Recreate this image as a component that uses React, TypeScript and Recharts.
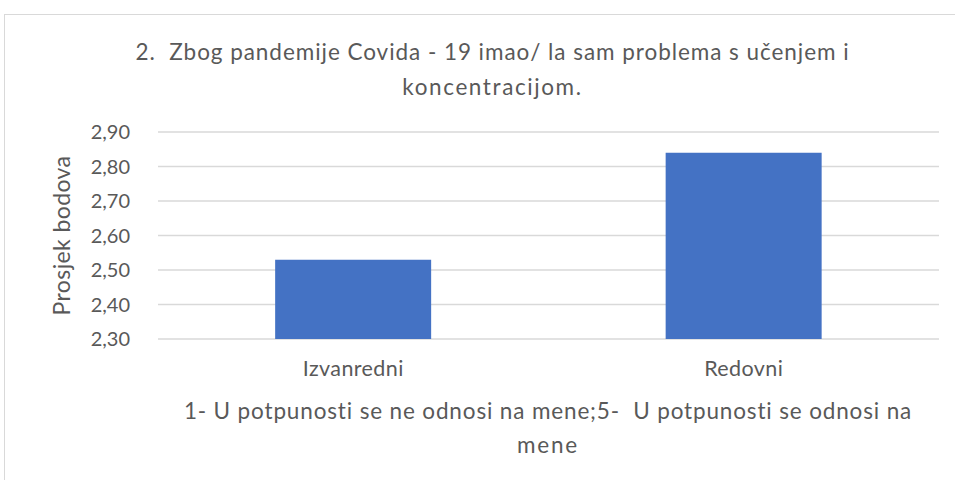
import { BarChart, Bar, XAxis, YAxis, CartesianGrid, Label } from "recharts"

const categories = ["Izvanredni", "Redovni"]
const averages = [2.53, 2.84]
const yTicks = [2.3, 2.4, 2.5, 2.6, 2.7, 2.8, 2.9]

const titleLines = [
  "2.  Zbog pandemije Covida - 19 imao/ la sam problema s učenjem i",
  "koncentracijom."
]
const xTitleLines = [
  "1- U potpunosti se ne odnosi na mene;5-  U potpunosti se odnosi na",
  "mene"
]

const data = categories.map((name, i) => ({ name, value: averages[i] }))

const font = "Lato, 'Open Sans', sans-serif"
const textColor = "#595959"

export default function App() {

  return (

    <div
      style={{
        position: "absolute",
        left: 0,
        top: 0,
        width: 955,
        height: 480,
        overflow: "hidden",
        background: "#ffffff",
        fontFamily: font
      }}
    >

      {/* chart frame */}
      <div
        style={{
          position: "absolute",
          left: 4,
          top: 14,
          width: 1000,
          height: 520,
          border: "1px solid #d9d9d9"
        }}
      />

      {/* title */}
      {titleLines.map((line, i) => (
        <div
          key={line}
          style={{
            position: "absolute",
            left: 0,
            width: 985,
            top: 37 + i * 35,
            textAlign: "center",
            fontSize: 22.5,
            letterSpacing: i === 0 ? 0.95 : 1.6,
            lineHeight: "30px",
            color: textColor,
            whiteSpace: "pre"
          }}
        >
          {line}
        </div>
      ))}

      <div style={{ position: "absolute", left: 0, top: 0 }}>

        <BarChart
          width={955}
          height={480}
          data={data}
          barCategoryGap="30%"
          margin={{ top: 132, right: 16, left: 0, bottom: 101 }}
        >

          <CartesianGrid vertical={false} stroke="#d9d9d9" strokeWidth={1.3} />

          <XAxis
            dataKey="name"
            height={40}
            axisLine={false}
            tickLine={false}
            tickSize={0}
            tickMargin={22}
            tick={{ fill: textColor, fontSize: 21.5, letterSpacing: 0.4, fontFamily: font }}
          />

          <YAxis
            width={158}
            domain={[2.3, 2.9]}
            ticks={yTicks}
            axisLine={false}
            tickLine={false}
            tickSize={0}
            tickMargin={28}
            tickFormatter={(v: number) => v.toFixed(2).replace(".", ",")}
            tick={{ fill: textColor, fontSize: 20, fontFamily: font }}
          >
            <Label
              value="Prosjek bodova"
              angle={-90}
              position="insideLeft"
              offset={62}
              style={{ textAnchor: "middle", fill: textColor, fontSize: 23, letterSpacing: 0.4, fontFamily: font }}
            />
          </YAxis>

          <Bar dataKey="value" fill="#4472c4" isAnimationActive={false} />

        </BarChart>

      </div>

      {/* x axis title */}
      {xTitleLines.map((line, i) => (
        <div
          key={line}
          style={{
            position: "absolute",
            left: 148,
            width: 800,
            top: 396 + i * 34,
            textAlign: "center",
            fontSize: 22.5,
            letterSpacing: i === 0 ? 0.85 : 1.8,
            lineHeight: "30px",
            color: textColor,
            whiteSpace: "pre"
          }}
        >
          {line}
        </div>
      ))}

    </div>

  )

}
